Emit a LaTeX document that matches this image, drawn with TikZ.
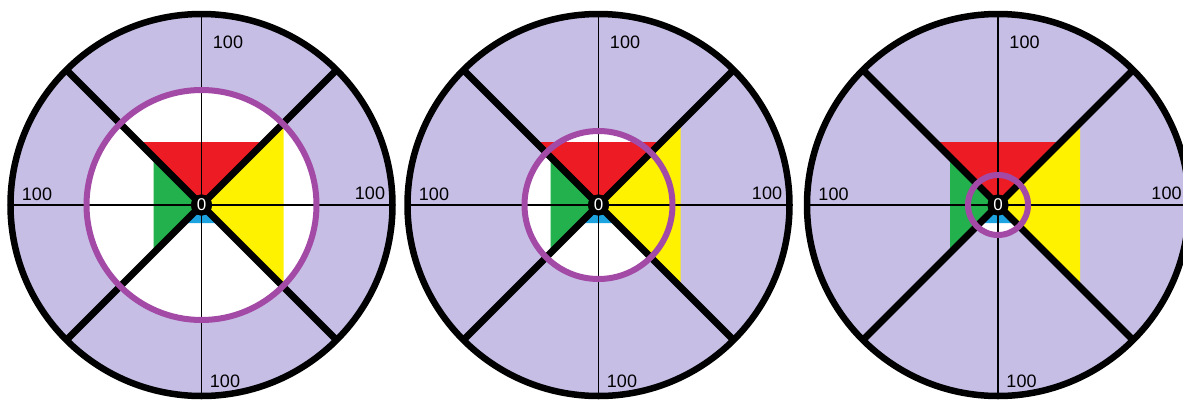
\documentclass[tikz,border=0pt]{standalone}
\usepackage{fontspec}
\setmainfont{Liberation Sans}
\definecolor{lavender}{HTML}{C6BEE5}
\definecolor{ringpurple}{HTML}{A24AA5}
\definecolor{zred}{HTML}{ED1C24}
\definecolor{zyellow}{HTML}{FFF200}
\definecolor{zgreen}{HTML}{22B14C}
\definecolor{zblue}{HTML}{1CA3E0}
\tikzset{
  thinaxis/.style={black,line width=1.3pt},
  spoke/.style={black,line width=7pt},
  rimlabel/.style={font=\fontsize{18}{18}\selectfont,inner sep=0pt},
  hub/.style={circle,fill=black,inner sep=0pt,minimum size=21pt,text=white,font=\fontsize{17}{17}\selectfont},
}
\begin{document}
\begin{tikzpicture}[x=1pt,y=-1pt]
\useasboundingbox (0,0) rectangle (1183,399);
\clip (0,0) rectangle (1183,399);
% three dials, only the purple ring changes
\foreach \cx/\r/\n in {201.5/115/a,598.5/74/b,998/30/c}{
\begin{scope}[shift={(\cx,205)}]
  \fill[lavender] (0,0) circle[radius=191];
  \fill[white] (0,0) circle[radius=\r];
  \fill[zred] (0,0) -- (-63,-63) -- (63,-63) -- cycle;
  \fill[zyellow] (0,0) -- (82,-82) -- (82,82) -- cycle;
  \fill[zgreen] (0,0) -- (-48,-48) -- (-48,48) -- cycle;
  \fill[zblue] (0,0) -- (-18,18) -- (18,18) -- cycle;
  \coordinate (\n-w) at (-191,0);
  \coordinate (\n-e) at (191,0);
  \coordinate (\n-n) at (0,-191);
  \coordinate (\n-s) at (0,191);
  \foreach \ang in {45,135,225,315}
    \coordinate (\n-\ang) at (\ang:191);
  \node[hub] (\n-0) at (0,0) {};
  \draw[thinaxis] (\n-w) -- (\n-e);
  \draw[thinaxis] (\n-n) -- (\n-s);
  \foreach \ang in {45,135,225,315}
    \draw[spoke] (\n-0.center) -- (\n-\ang);
  \draw[ringpurple,line width=6pt] (0,0) circle[radius=\r];
  \draw[black,line width=6.5pt] (0,0) circle[radius=191];
  \node[hub] at (\n-0) {0};
  \node[rimlabel] (\n-top) at (26.5,-163) {100};
  \node[rimlabel] (\n-left) at (-164.5,-11) {100};
  \node[rimlabel] (\n-right) at (168.5,-12) {100};
  \node[rimlabel] (\n-bot) at (23.5,176) {100};
\end{scope}
}
\end{tikzpicture}
\end{document}
